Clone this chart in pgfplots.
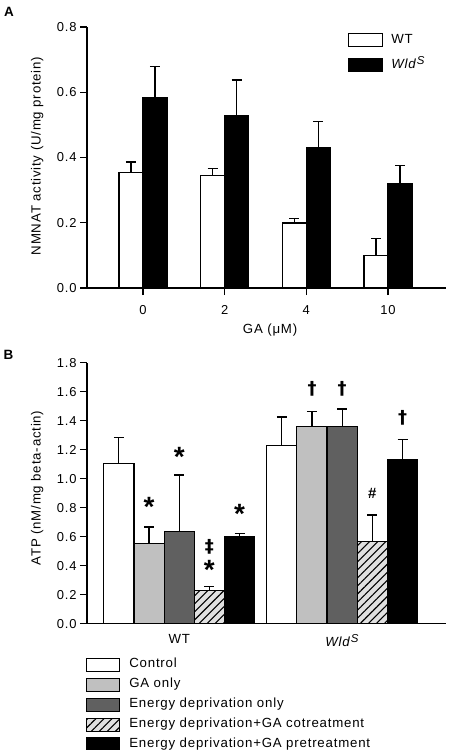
\documentclass[border=0pt]{standalone}
\usepackage{fontspec}
\setmainfont{Liberation Sans}[LetterSpace=6]
\newfontfamily\symfont{DejaVu Sans}
\usepackage{pgfplots}
\pgfplotsset{compat=1.18}
\usetikzlibrary{patterns.meta}
\definecolor{lgray}{HTML}{C0C0C0}
\definecolor{dgray}{HTML}{606060}
\definecolor{hgray}{HTML}{E0E0E0}
\newcommand{\wld}{\textit{Wld}\raisebox{0.55ex}{\fontsize{11.5}{12}\selectfont\textit{S}}}
\pgfplotsset{
  panel/.style={
    scale only axis, width=359bp, height=261bp,
    axis x line=bottom, axis y line=left,
    axis line style={line width=1.3bp, -},
    tick style={line width=1.3bp, black},
    tick align=outside, major tick length=7bp,
    /pgf/number format/assume math mode=true,
    /pgf/number format/fixed, /pgf/number format/fixed zerofill,
    /pgf/number format/precision=1,
    ticklabel style={font=\fontsize{13}{15}\selectfont},
    label style={font=\fontsize{13.3}{15}\selectfont},
    ymin=0, ybar=0pt,
    error bars/y dir=plus, error bars/y explicit,
    error bars/error bar style={line width=1.3bp, black},
    error bars/error mark options={rotate=90, line width=1.3bp, mark size=5bp, black},
  },
  legA/.style={legend image code/.code={\draw[##1, line width=1.2bp] (0bp,-6.5bp) rectangle (34bp,6.5bp);}},
  legB/.style={legend image code/.code={\draw[##1, line width=1.2bp] (0bp,-6.5bp) rectangle (33bp,6.5bp);}},
}
\begin{document}
\begin{tikzpicture}
\useasboundingbox (0,0) rectangle (449bp,-750bp);
\node[font=\bfseries\fontsize{13.5}{14}\selectfont] at (9bp,-11.5bp) {A};
\node[font=\bfseries\fontsize{13.5}{14}\selectfont] at (8.5bp,-355bp) {B};
\begin{axis}[panel, at={(87bp,-288bp)}, anchor=south west,
  ymax=0.8, ytick={0,0.2,0.4,0.6,0.8},
  xmin=-0.685, xmax=3.71, xtick={0,1,2,3}, xticklabels={0,2,4,10},
  bar width=24bp,
  ylabel={NMNAT activity (U/mg protein)},
  ylabel style={at={(axis description cs:-0.139,0.506)}, anchor=center},
  xlabel={GA (μM)},
  xlabel style={at={(axis description cs:0.51,-0.163)}, anchor=center},
  xticklabel style={yshift=-7bp},
  legend style={at={(axis description cs:0.727,0.977)}, anchor=north west,
    draw=none, fill=none, inner sep=0pt, row sep=10.5bp, column sep=8bp,
    font=\fontsize{13.3}{15}\selectfont,
    nodes={inner sep=0pt, text height=9bp, text depth=3bp}},
  legend cell align=left,
]
\addplot[legA, draw=black, line width=1.2bp, fill=white] table[x=x, y=y, y error=e] {
x y e
0 0.355 0.031
1 0.345 0.021
2 0.199 0.014
3 0.099 0.052
};
\addplot[legA, draw=black, line width=1.2bp, fill=black] table[x=x, y=y, y error=e] {
x y e
0 0.583 0.097
1 0.529 0.109
2 0.429 0.081
3 0.320 0.056
};
\legend{WT, \wld}
\end{axis}

\begin{axis}[panel, at={(87bp,-623.7bp)}, anchor=south west,
  ymax=1.8, ytick={0,0.2,...,1.8},
  xmin=-0.566, xmax=1.637, xtick={0,1}, xticklabels={WT, \wld},
  x tick style={draw=none}, xticklabel style={font=\fontsize{13.3}{15}\selectfont},
  bar width=30.2bp,
  ylabel={ATP (nM/mg beta-actin)},
  ylabel style={at={(axis description cs:-0.139,0.52)}, anchor=center},
  legend style={at={(axis description cs:-0.003,-0.130)}, anchor=north west,
    draw=none, fill=none, inner sep=0pt, row sep=5.7bp, column sep=9bp,
    font=\fontsize{13.3}{15}\selectfont,
    nodes={inner sep=0pt, text height=9bp, text depth=3bp}},
  legend cell align=left,
]
\addplot[legB, draw=black, line width=1.2bp, fill=white] table[x=x, y=y, y error=e] {
x y e
0 1.103 0.180
1 1.230 0.195
};
\addplot[legB, draw=black, line width=1.2bp, fill=lgray] table[x=x, y=y, y error=e] {
x y e
0 0.554 0.113
1 1.359 0.103
};
\addplot[legB, draw=black, line width=1.2bp, fill=dgray] table[x=x, y=y, y error=e] {
x y e
0 0.634 0.391
1 1.361 0.119
};
\addplot[legB, draw=black, line width=1.2bp, fill=hgray, postaction={pattern={Lines[angle=45,distance=5.7bp,line width=1.1bp]}}] table[x=x, y=y, y error=e] {
x y e
0 0.228 0.027
1 0.566 0.183
};
\addplot[legB, draw=black, line width=1.2bp, fill=black] table[x=x, y=y, y error=e] {
x y e
0 0.602 0.021
1 1.133 0.138
};
\legend{Control, GA only, Energy deprivation only, Energy deprivation+GA cotreatment, Energy deprivation+GA pretreatment}
\node[font=\bfseries\fontsize{28}{28}\selectfont] at (axis cs:-0.185,0.807) {*};
\node[font=\bfseries\fontsize{28}{28}\selectfont] at (axis cs:0,1.147) {*};
\node[font=\symfont\bfseries\fontsize{18}{18}\selectfont] at (axis cs:0.185,0.531) {‡};
\node[font=\bfseries\fontsize{28}{28}\selectfont] at (axis cs:0.185,0.37) {*};
\node[font=\bfseries\fontsize{28}{28}\selectfont] at (axis cs:0.37,0.754) {*};
\node[font=\symfont\bfseries\fontsize{18}{18}\selectfont] at (axis cs:0.815,1.618) {†};
\node[font=\symfont\bfseries\fontsize{18}{18}\selectfont] at (axis cs:1.0,1.618) {†};
\node[font=\bfseries\fontsize{15}{15}\selectfont] at (axis cs:1.185,0.899) {\#};
\node[font=\symfont\bfseries\fontsize{18}{18}\selectfont] at (axis cs:1.37,1.42) {†};
\end{axis}
\end{tikzpicture}
\end{document}
